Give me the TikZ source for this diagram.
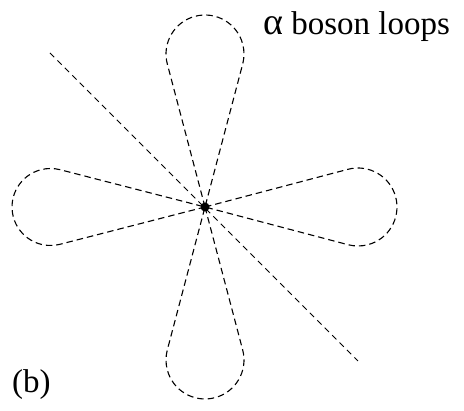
\documentclass[tikz,border=0pt]{standalone}
\usepackage{fontspec}
\setmainfont{Liberation Serif}
\usetikzlibrary{calc}
\tikzset{
  loopline/.style={draw=black, line width=1.1pt, dash pattern=on 6.5pt off 4pt},
  diagline/.style={draw=black, line width=1pt, dash pattern=on 6pt off 4.5pt},
  lbl/.style={inner sep=0pt, anchor=base west, font=\fontsize{33}{36}\selectfont}
}
\begin{document}
\begin{tikzpicture}[x=1pt,y=1pt]
\useasboundingbox (0,0) rectangle (464,411);
\coordinate (V) at (205,204);
\coordinate (D1) at (50,358);
\coordinate (D2) at (358,50);
\draw[diagline] (D1) -- (D2);
% loops: direction, distance to circle centre, radius
\foreach \t/\d/\r in {90/153/39, 180/154.5/38.5, 0/153/39, 270/153/39}{
  \pgfmathsetmacro{\p}{asin(\r/\d)}
  \pgfmathsetmacro{\L}{\d*cos(\p)}
  \draw[loopline] (V) -- ($(V)+(\t+\p:\L pt)$)
     arc[start angle=\t+90+\p, end angle=\t-90-\p, radius=\r pt] -- cycle;
}
\node[circle, fill=black, inner sep=0pt, minimum size=9pt] (dot) at (V) {};
\node[lbl] (title) at (263,376) {{\fontsize{38}{40}\selectfont α} boson loops};
\node[lbl] (b) at (12,18) {(b)};
\end{tikzpicture}
\end{document}
